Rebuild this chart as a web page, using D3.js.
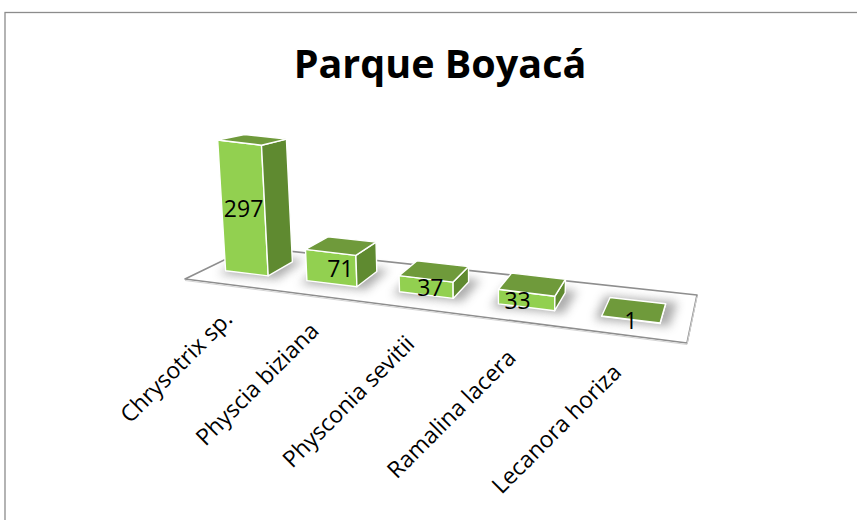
<!DOCTYPE html>
<html><head><meta charset="utf-8">
<script src="https://cdn.jsdelivr.net/npm/d3@7"></script>
<style>html,body{margin:0;padding:0;background:#fff}svg{display:block}text{font-family:"Open Sans",sans-serif;fill:#000}</style>
</head><body><div id="c"></div>
<script>
const categories = ["Chrysotrix sp.","Physcia biziana","Physconia sevitii","Ramalina lacera","Lecanora horiza"];
const values = [297,71,37,33,1];
const title = "Parque Boyacá";
const valueLabelShift = [0,9,4,-9,0];

const W=857,H=520;
const svg=d3.select("#c").append("svg").attr("width",W).attr("height",H);
const defs=svg.append("defs");
defs.append("filter").attr("id","sh").attr("x","-40%").attr("y","-80%").attr("width","180%").attr("height","260%")
  .append("feGaussianBlur").attr("stdDeviation",5);

svg.append("rect").attr("x",5).attr("y",12.5).attr("width",W+20).attr("height",H+20)
  .attr("fill","#fff").attr("stroke","#8c8c8c").attr("stroke-width",1.3);

svg.append("text").attr("x",440).attr("y",78).attr("text-anchor","middle")
  .attr("font-weight",700).attr("font-size",39.5).text(title);

// floor plane: u along categories, v towards the back
const FL=[185,279],FR=[687,343],BL=[251,247],BR=[697,295];
const lerp=(a,b,t)=>[a[0]+(b[0]-a[0])*t,a[1]+(b[1]-a[1])*t];
const floor=(u,v)=>lerp(lerp(FL,FR,u),lerp(BL,BR,u),v);

const band=d3.scaleBand().domain(categories).range([0,1]).paddingInner(.45).paddingOuter(.225);
const warp=d3.scalePow().exponent(1.14).domain([0,1]).range([.0104,.9874]);
const hScale=d3.scaleLinear().domain([0,300]).range([0,132]);
const V0=.33,V1=.74;
// lift a floor point by h px: leaning towards a vertical vanishing line, back corners rise less
const lift=(p,h,k=1)=>[p[0]+(p[0]-500)*.00022*h,p[1]-h*k];
const poly=pts=>pts.map(p=>p.map(n=>n.toFixed(1)).join(",")).join(" ");

const g=svg.append("g");
g.append("polygon").attr("points",poly([FL,FR,BR,BL]))
  .attr("fill","#fff").attr("stroke","#8e8e8e").attr("stroke-width",1.6).attr("stroke-linejoin","round");
g.append("polyline").attr("points",poly([FL,FR,BR])).attr("fill","none")
  .attr("stroke","#d4d4d4").attr("stroke-width",1).attr("transform","translate(0,1.5)");

const bars=categories.map((c,i)=>{
  const a=warp(band(c)),b=warp(band(c)+band.bandwidth()),h=hScale(values[i]);
  const bfl=floor(a,V0),bfr=floor(b,V0),bbr=floor(b,V1),bbl=floor(a,V1);
  return {c,v:values[i],i,bfl,bfr,bbr,bbl,
    tfl:lift(bfl,h),tfr:lift(bfr,h),tbr:lift(bbr,h,.94),tbl:lift(bbl,h,.94)};
});

// soft shadows on the floor
g.selectAll(".shadow").data(bars).join("polygon").attr("class","shadow")
  .attr("points",d=>poly([[d.bfl[0]-7,d.bfl[1]+3],[d.bfr[0]+9,d.bfr[1]+3],[d.bbr[0]+12,d.bbr[1]-2],[d.bbl[0]-5,d.bbl[1]-2]]))
  .attr("fill","#8a8a8a").attr("opacity",.7).attr("filter","url(#sh)");

const faces=[
  ["front","#92d050",d=>[d.bfl,d.bfr,d.tfr,d.tfl]],
  ["side","#5f8a30",d=>[d.bfr,d.bbr,d.tbr,d.tfr]],
  ["top","#6f9a3b",d=>[d.tfl,d.tfr,d.tbr,d.tbl]]];
faces.forEach(([n,col,fn])=>{
  g.selectAll("."+n).data(bars).join("polygon").attr("class",n)
    .attr("points",d=>poly(fn(d))).attr("fill",col)
    .attr("stroke","#fff").attr("stroke-width",1.4).attr("stroke-linejoin","round");
});

g.selectAll(".val").data(bars).join("text").attr("class","val")
  .attr("x",d=>(d.bfl[0]+d.tfr[0])/2+valueLabelShift[d.i])
  .attr("y",d=>(d.bfl[1]+d.tfr[1])/2+9)
  .attr("text-anchor","middle").attr("font-size",23).text(d=>d.v);

g.selectAll(".cat").data(bars).join("text").attr("class","cat")
  .attr("transform",d=>{const u=warp(band(d.c)+band.bandwidth()/2),p=floor(u,0);
    return `translate(${p[0]+9-13*u},${p[1]+36+u*3}) rotate(-45)`;})
  .attr("text-anchor","end").attr("font-size",23).text(d=>d.c);
</script></body></html>
